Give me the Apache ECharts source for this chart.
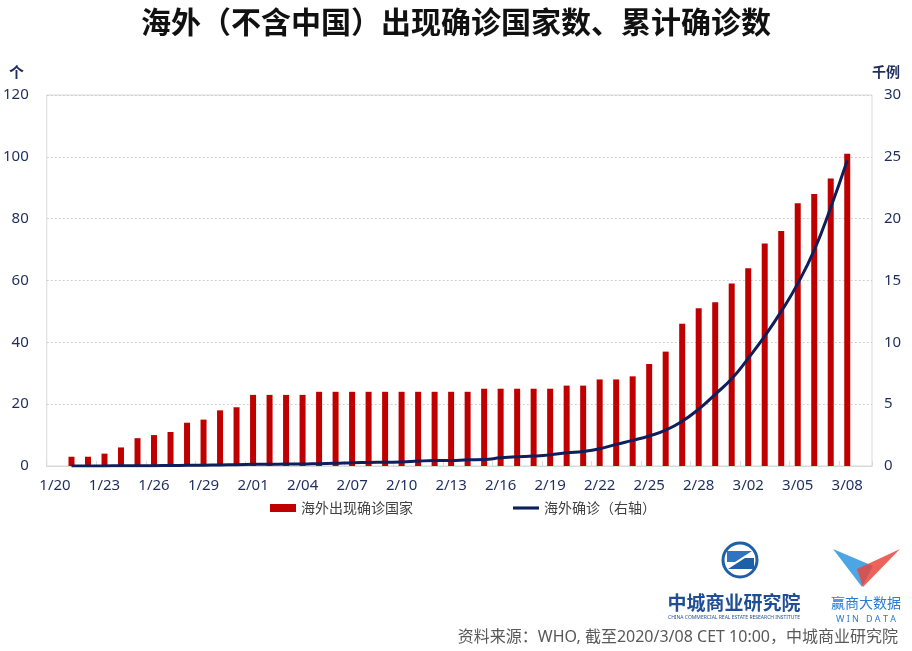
<!DOCTYPE html>
<html>
<head>
<meta charset="utf-8">
<script src="https://cdn.jsdelivr.net/npm/echarts@6/dist/echarts.min.js"></script>
<style>
  html, body { margin: 0; padding: 0; background: #fff; }
  #chart { width: 912px; height: 651px; }
</style>
</head>
<body>
<div id="chart"></div>
<script>
// 日期：1/20 ~ 3/09（最后一格留空）
const dates = [
  '1/20', '1/21', '1/22', '1/23', '1/24', '1/25', '1/26', '1/27', '1/28', '1/29', '1/30', '1/31',
  '2/01', '2/02', '2/03', '2/04', '2/05', '2/06', '2/07', '2/08', '2/09', '2/10', '2/11', '2/12',
  '2/13', '2/14', '2/15', '2/16', '2/17', '2/18', '2/19', '2/20', '2/21', '2/22', '2/23', '2/24',
  '2/25', '2/26', '2/27', '2/28', '2/29', '3/01', '3/02', '3/03', '3/04', '3/05', '3/06', '3/07',
  '3/08', '3/09'
]
// 海外出现确诊国家（个）
const countries = [
  null, 3, 3, 4, 6, 9, 10, 11, 14, 15, 18, 19,
  23, 23, 23, 23, 24, 24, 24, 24, 24, 24, 24, 24,
  24, 24, 25, 25, 25, 25, 25, 26, 26, 28, 28, 29,
  33, 37, 46, 51, 53, 59, 64, 72, 76, 85, 88, 93,
  101, null
]
// 海外累计确诊（千例）
const cases = [
  null, 0.004, 0.006, 0.009, 0.013, 0.023, 0.029, 0.037, 0.056, 0.068, 0.082, 0.106,
  0.132, 0.146, 0.153, 0.159, 0.191, 0.216, 0.27, 0.288, 0.307, 0.319, 0.395, 0.441,
  0.447, 0.505, 0.526, 0.66, 0.75, 0.8, 0.9, 1.07, 1.18, 1.4, 1.75, 2.07,
  2.43, 2.9, 3.62, 4.6, 5.8, 7.05, 8.7, 10.5, 12.5, 14.75, 17.45, 20.9,
  24.7, null
]
const navy = '#1f2d5c'
const axisFont = 'Noto Sans, Noto Sans CJK SC, sans-serif'

let myChart = echarts.init(document.getElementById('chart'))
let option = {
  animation: false,
  title: {
    text: '海外（不含中国）出现确诊国家数、累计确诊数',
    left: 'center',
    top: 2,
    textStyle: {
      fontSize: 30,
      fontWeight: 'bold',
      color: '#111',
      fontFamily: 'Noto Sans CJK SC, sans-serif'
    }
  },
  grid: {
    left: 46,
    right: 40,
    top: 95,
    bottom: 185,
    show: true,
    borderColor: '#d9d9d9',
    borderWidth: 1
  },
  legend: {
    left: 265,
    top: 496,
    itemGap: 100,
    itemWidth: 26,
    itemHeight: 8,
    textStyle: {
      fontSize: 14,
      color: '#404040',
      fontFamily: 'Noto Sans CJK SC, sans-serif'
    },
    data: [
      { name: '海外出现确诊国家', icon: 'rect' },
      { name: '海外确诊（右轴）', icon: 'path://M0,0 L100,0 L100,12 L0,12 Z' }
    ]
  },
  xAxis: {
    type: 'category',
    data: dates,
    axisLine: { lineStyle: { color: '#d9d9d9' } },
    axisTick: {
      show: true,
      inside: true,
      interval: 2,
      length: 5,
      lineStyle: { color: '#d9d9d9' }
    },
    axisLabel: {
      interval: 2,
      margin: 12,
      fontSize: 15,
      color: navy,
      fontFamily: axisFont
    }
  },
  yAxis: [
    {
      type: 'value',
      min: 0,
      max: 120,
      interval: 20,
      axisLine: { show: false },
      axisTick: { show: false },
      splitLine: { lineStyle: { color: '#cfcfcf', type: [2, 2] } },
      axisLabel: { margin: 18, fontSize: 15, color: navy, fontFamily: axisFont }
    },
    {
      type: 'value',
      min: 0,
      max: 30,
      interval: 5,
      axisLine: { show: false },
      axisTick: { show: false },
      splitLine: { show: false },
      axisLabel: { margin: 12, fontSize: 15, color: navy, fontFamily: axisFont }
    }
  ],
  graphic: [
    // 坐标轴单位
    { type: 'text', left: 9, top: 65, style: { text: '个', fill: navy, font: 'bold 15px Noto Sans CJK SC' } },
    { type: 'text', left: 872, top: 65, style: { text: '千例', fill: navy, font: 'bold 14px Noto Sans CJK SC' } },
    // 中城商业研究院 logo
    { type: 'circle', shape: { cx: 740, cy: 560, r: 17 }, style: { fill: 'none', stroke: '#1f5fa8', lineWidth: 3 } },
    { type: 'polygon', shape: { points: [[727, 551], [752, 551], [735, 562], [727, 562]] }, style: { fill: '#2f74c0' } },
    { type: 'polygon', shape: { points: [[745, 558], [754, 558], [754, 569], [728, 569]] }, style: { fill: '#1f5fa8' } },
    { type: 'text', x: 734, y: 603, style: { text: '中城商业研究院', align: 'center', verticalAlign: 'middle', fill: '#1f4e96', font: 'bold 19px Noto Sans CJK SC' } },
    { type: 'text', x: 734, y: 618, style: { text: 'CHINA COMMERCIAL REAL ESTATE RESEARCH INSTITUTE', align: 'center', verticalAlign: 'middle', fill: '#1f4e96', font: '5px Noto Sans' } },
    // 赢商大数据 logo
    { type: 'polygon', shape: { points: [[833, 549], [873, 566], [862, 587]] }, style: { fill: '#3a9be0', opacity: 0.9 } },
    { type: 'polygon', shape: { points: [[900, 549], [857, 569], [863, 587]] }, style: { fill: '#e8483e', opacity: 0.85 } },
    { type: 'text', x: 866, y: 603, style: { text: '赢商大数据', align: 'center', verticalAlign: 'middle', fill: '#2b7bd0', font: '14px Noto Sans CJK SC' } },
    { type: 'text', x: 866, y: 619, style: { text: 'W I N   D A T A', align: 'center', verticalAlign: 'middle', fill: '#2b7bd0', font: '9px Noto Sans' } },
    // 资料来源
    { type: 'text', right: 14, top: 629, style: { text: '资料来源：WHO, 截至2020/3/08 CET 10:00，中城商业研究院', fill: '#595959', font: '16px Noto Sans, Noto Sans CJK SC' } }
  ],
  series: [
    {
      name: '海外出现确诊国家',
      type: 'bar',
      yAxisIndex: 0,
      barWidth: 6,
      itemStyle: { color: '#c00000' },
      data: countries
    },
    {
      name: '海外确诊（右轴）',
      type: 'line',
      yAxisIndex: 1,
      smooth: true,
      symbol: 'none',
      lineStyle: { color: '#0f1f5c', width: 3 },
      itemStyle: { color: '#0f1f5c' },
      data: cases
    }
  ]
}
myChart.setOption(option)
</script>
</body>
</html>
